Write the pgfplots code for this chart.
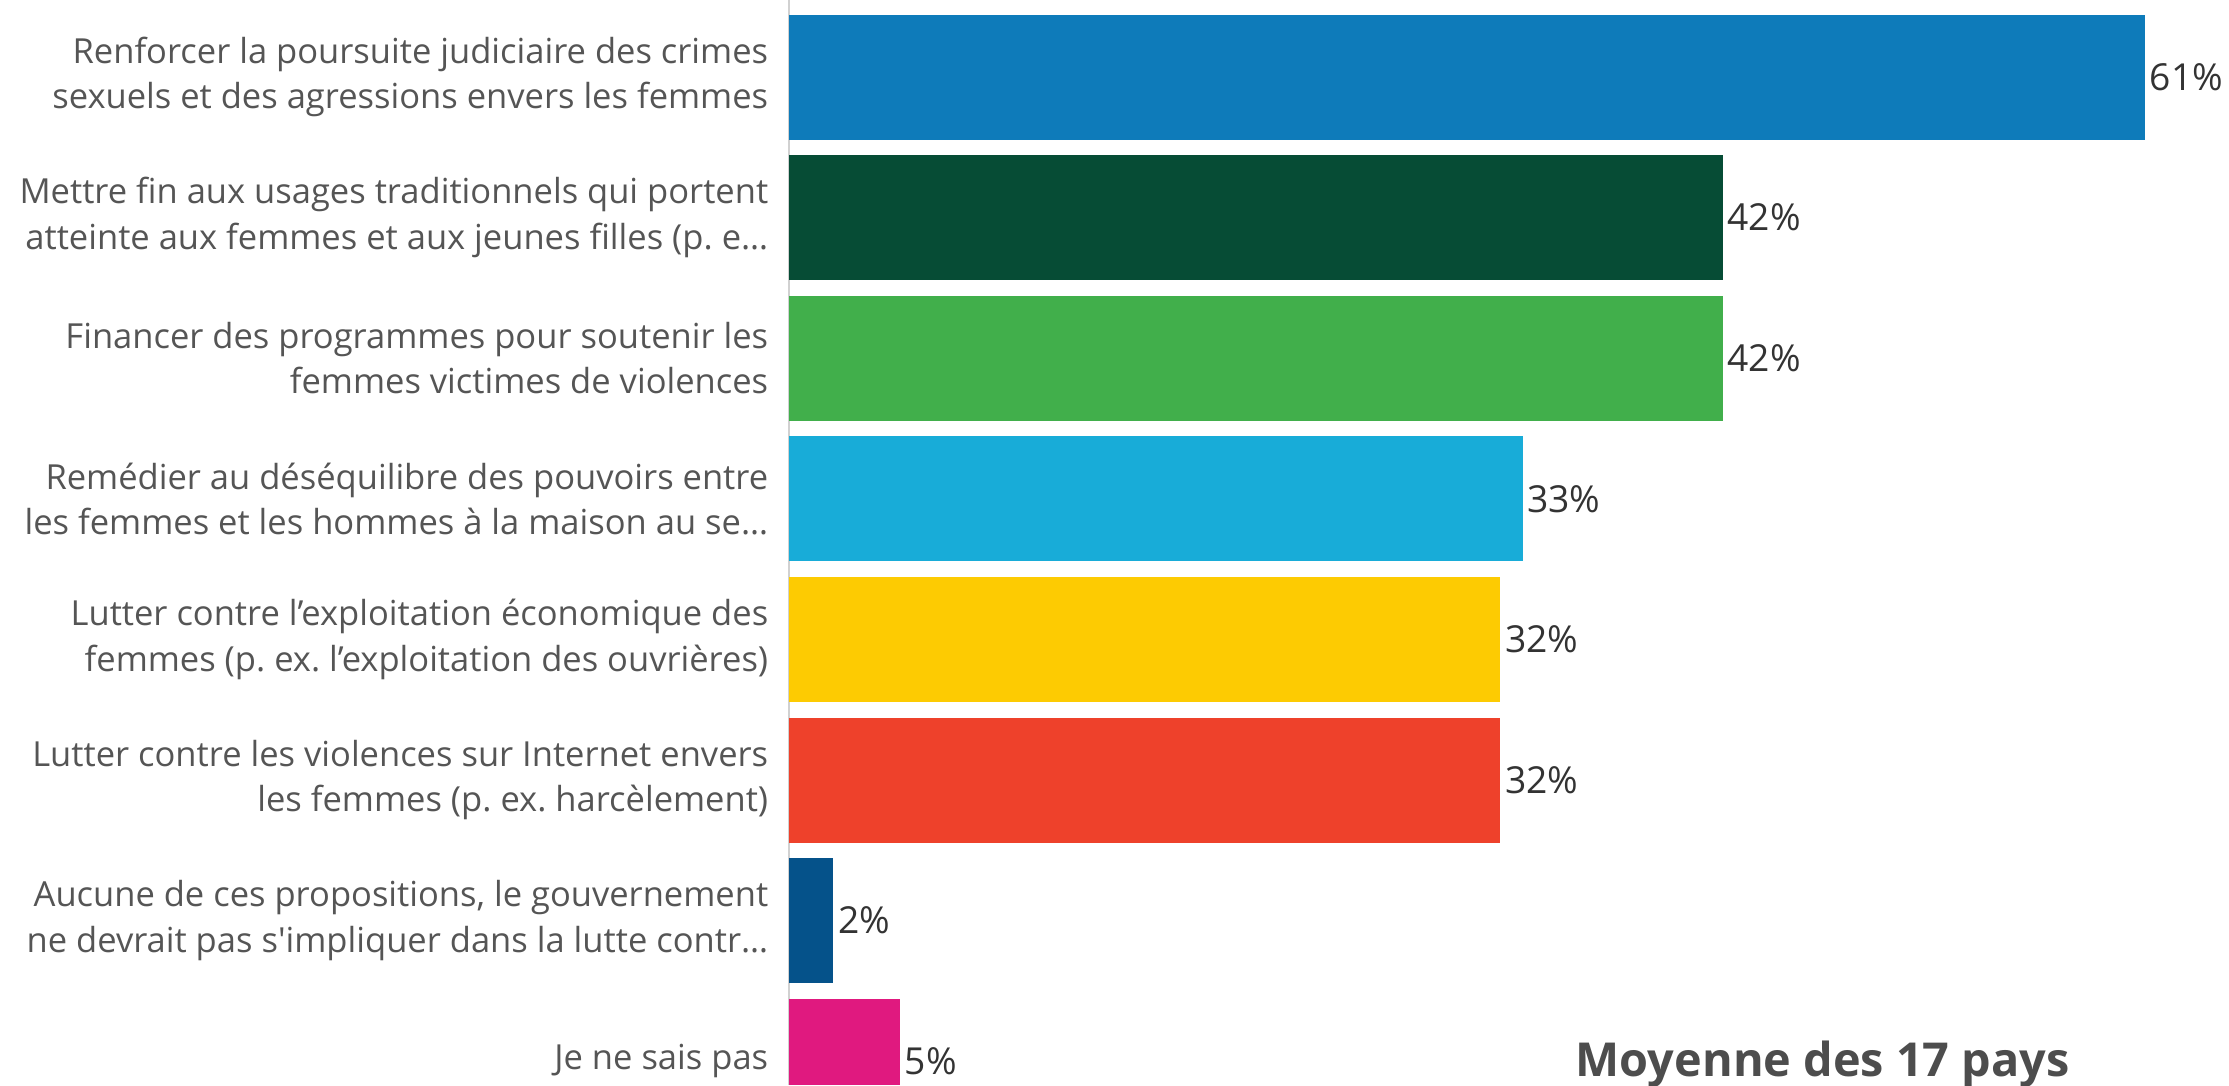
\documentclass[border=0pt]{standalone}
\usepackage{pgfplots}
\pgfplotsset{compat=1.18}
\usepackage{fontspec}
\setmainfont{Open Sans}
\frenchspacing
\definecolor{c1}{HTML}{0E7BBA}
\definecolor{c2}{HTML}{064C35}
\definecolor{c3}{HTML}{41AF4B}
\definecolor{c4}{HTML}{18ACD8}
\definecolor{c5}{HTML}{FDCB02}
\definecolor{c6}{HTML}{EE412B}
\definecolor{c7}{HTML}{05528A}
\definecolor{c8}{HTML}{E0197F}
\definecolor{lab}{HTML}{555555}
\definecolor{val}{HTML}{333333}
\definecolor{ttl}{HTML}{4D4D4D}
\begin{document}
\frenchspacing
\begin{tikzpicture}
\useasboundingbox (0,0) rectangle (557.25pt,271.25pt);
\begin{axis}[
  at={(197.25pt,271.25pt)}, anchor=north west,
  x=5.5575pt, y=35.15pt,
  xmin=0, xmax=64.78,
  ymin=-0.5477, ymax=7.169,
  y dir=reverse,
  xbar, bar width=31.25pt, bar shift=0pt,
  separate axis lines,
  axis x line=none, axis y line*=left,
  axis line style={draw=black!18, line width=0.5pt},
  ytick={0,1,2,3,4,5,6,7},
  major tick length=0pt,
  yticklabels={
    {Renforcer la poursuite judiciaire des crimes\\sexuels et des agressions envers les femmes},
    {Mettre fin aux usages traditionnels qui portent\\atteinte aux femmes et aux jeunes filles (p. e…},
    {Financer des programmes pour soutenir les\\femmes victimes de violences},
    {Remédier au déséquilibre des pouvoirs entre\\les femmes et les hommes à la maison au se…},
    {Lutter contre l’exploitation économique des\\femmes (p. ex. l’exploitation des ouvrières)},
    {Lutter contre les violences sur Internet envers\\les femmes (p. ex. harcèlement)},
    {Aucune de ces propositions, le gouvernement\\ne devrait pas s\textquotesingle impliquer dans la lutte contr…},
    {Je ne sais pas}},
  yticklabel style={align=right, inner sep=0pt, xshift=-5pt, text=lab,
    font=\frenchspacing\fontsize{8.63}{11.4}\selectfont},
  /pgf/number format/assume math mode=true,
  point meta=x,
  nodes near coords={\pgfmathprintnumber{\pgfplotspointmeta}\%},
  nodes near coords style={font=\fontsize{9.3}{11}\selectfont, text=val, inner sep=1pt},
]
\addplot[fill=c1, draw=none] coordinates {(61,0)};
\addplot[fill=c2, draw=none] coordinates {(42,1)};
\addplot[fill=c3, draw=none] coordinates {(42,2)};
\addplot[fill=c4, draw=none] coordinates {(33,3)};
\addplot[fill=c5, draw=none] coordinates {(32,4)};
\addplot[fill=c6, draw=none] coordinates {(32,5)};
\addplot[fill=c7, draw=none] coordinates {(2,6)};
\addplot[fill=c8, draw=none] coordinates {(5,7)};
\end{axis}
\node[anchor=base west, inner sep=0pt, text=ttl, font=\fontsize{11.7}{14}\selectfont\bfseries] at (393.75pt,2.25pt) {Moyenne des 17 pays};
\end{tikzpicture}
\end{document}
